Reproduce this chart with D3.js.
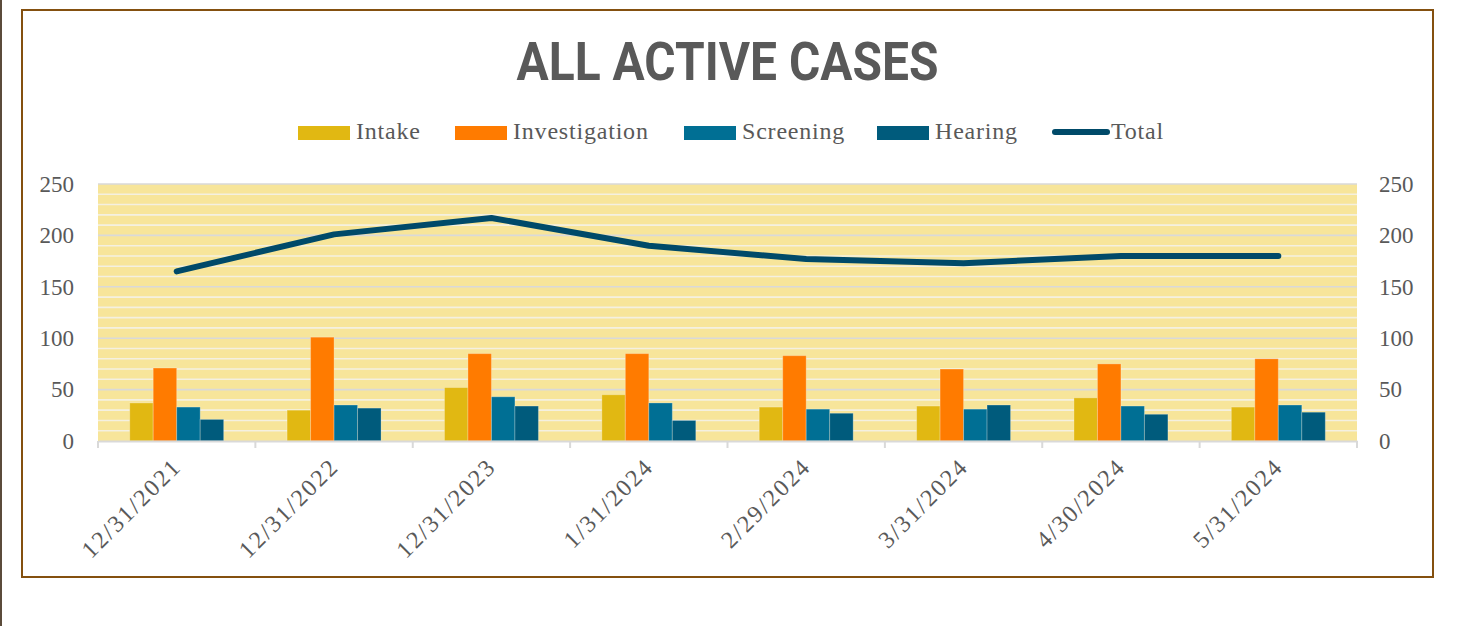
<!DOCTYPE html>
<html>
<head>
<meta charset="utf-8">
<script src="https://cdn.jsdelivr.net/npm/d3@7"></script>
<style>
  body { margin: 0; background: #fff; }
  svg { display: block; }
</style>
</head>
<body>
<div id="chart"></div>
<script>
// Data
const dates = ['12/31/2021', '12/31/2022', '12/31/2023', '1/31/2024',
               '2/29/2024', '3/31/2024', '4/30/2024', '5/31/2024'];
const seriesNames = ['Intake', 'Investigation', 'Screening', 'Hearing'];
const intake        = [37, 30, 52, 45, 33, 34, 42, 33];
const investigation = [71, 101, 85, 85, 83, 70, 75, 80];
const screening     = [33, 35, 43, 37, 31, 31, 34, 35];
const hearing       = [21, 32, 34, 20, 27, 35, 26, 28];
const total         = [165, 201, 217, 190, 177, 173, 180, 180];
const yTicks = [0, 50, 100, 150, 200, 250];

const colors = ['#e1b812', '#ff7b00', '#006f94', '#005b7c'];
const lineColor = '#004a69';
const textColor = '#595959';
const serif = '"Palatino Linotype", "Book Antiqua", Palatino, "Liberation Serif", serif';

const W = 1484, H = 626;
const plot = { left: 98, right: 1357, top: 184, bottom: 441 };

const svg = d3.select('#chart').append('svg')
    .attr('width', W)
    .attr('height', H);

// thin edge at the very left and the chart frame
svg.append('line')
    .attr('x1', 1).attr('x2', 1).attr('y1', 0).attr('y2', H)
    .attr('stroke', '#5b4b3b').attr('stroke-width', 2);
svg.append('rect')
    .attr('x', 22).attr('y', 10).attr('width', 1411).attr('height', 567)
    .attr('fill', '#fff')
    .attr('stroke', '#84500f').attr('stroke-width', 2);

// Scales
const x = d3.scaleBand()
    .domain(dates)
    .range([plot.left, plot.right])
    .paddingInner(0).paddingOuter(0);

// bars take up about 60% of each category
const x1 = d3.scaleBand()
    .domain(seriesNames)
    .range([0, x.bandwidth()])
    .paddingOuter(1.35)
    .paddingInner(0);

const y = d3.scaleLinear()
    .domain([0, 250])
    .range([plot.bottom, plot.top]);

// Plot background
svg.append('rect')
    .attr('x', plot.left).attr('y', plot.top)
    .attr('width', plot.right - plot.left).attr('height', plot.bottom - plot.top)
    .attr('fill', '#f7e59a');

// minor gridlines every 10, major every 50
svg.append('g')
    .selectAll('line')
    .data(d3.range(10, 250, 10).filter(v => v % 50 !== 0))
    .join('line')
    .attr('x1', plot.left).attr('x2', plot.right)
    .attr('y1', d => y(d)).attr('y2', d => y(d))
    .attr('stroke', '#f4f0e0').attr('stroke-width', 1.6);

svg.append('g')
    .selectAll('line')
    .data(yTicks.slice(1))
    .join('line')
    .attr('x1', plot.left).attr('x2', plot.right)
    .attr('y1', d => y(d)).attr('y2', d => y(d))
    .attr('stroke', '#d9d9d9').attr('stroke-width', 1.6);

// Bars
const barData = dates.map((d, i) => ({
    date: d,
    values: [intake[i], investigation[i], screening[i], hearing[i]]
}));

svg.append('g')
    .selectAll('g')
    .data(barData)
    .join('g')
    .attr('transform', d => `translate(${x(d.date)},0)`)
    .selectAll('rect')
    .data(d => d.values.map((v, j) => ({ name: seriesNames[j], value: v, j })))
    .join('rect')
    .attr('x', d => x1(d.name))
    .attr('y', d => y(d.value))
    .attr('width', x1.bandwidth())
    .attr('height', d => y(0) - y(d.value))
    .attr('fill', d => colors[d.j])
    .attr('stroke', '#ffffff').attr('stroke-opacity', 0.25).attr('stroke-width', 1);

// Total line
const line = d3.line()
    .x((d, i) => x(dates[i]) + x.bandwidth() / 2)
    .y(d => y(d));

svg.append('path')
    .datum(total)
    .attr('d', line)
    .attr('fill', 'none')
    .attr('stroke', lineColor)
    .attr('stroke-width', 6)
    .attr('stroke-linecap', 'round')
    .attr('stroke-linejoin', 'round');

// X axis
const xAxis = svg.append('g')
    .attr('transform', `translate(0,${plot.bottom})`)
    .call(d3.axisBottom(x).tickSize(0).tickFormat(''));
xAxis.select('.domain').attr('stroke', '#d9d9d9').attr('stroke-width', 2);

xAxis.selectAll('.boundary')
    .data(d3.range(dates.length + 1))
    .join('line')
    .attr('x1', i => plot.left + i * x.bandwidth())
    .attr('x2', i => plot.left + i * x.bandwidth())
    .attr('y1', 0).attr('y2', 7)
    .attr('stroke', '#d9d9d9').attr('stroke-width', 2);

svg.append('g')
    .selectAll('text')
    .data(dates)
    .join('text')
    .attr('transform', d => `translate(${x(d) + x.bandwidth() / 2 + 6},${plot.bottom + 27}) rotate(-45)`)
    .attr('text-anchor', 'end')
    .attr('font-family', serif)
    .attr('font-size', 24)
    .attr('letter-spacing', 2)
    .attr('fill', textColor)
    .text(d => d);

// Y axes (left and right)
const leftAxis = svg.append('g')
    .attr('transform', `translate(${plot.left},0)`)
    .call(d3.axisLeft(y).tickValues(yTicks).tickSize(0).tickPadding(24));
const rightAxis = svg.append('g')
    .attr('transform', `translate(${plot.right},0)`)
    .call(d3.axisRight(y).tickValues(yTicks).tickSize(0).tickPadding(22));

[leftAxis, rightAxis].forEach(ax => {
    ax.select('.domain').remove();
    ax.selectAll('text')
        .attr('font-family', serif)
        .attr('font-size', 23)
        .attr('fill', textColor);
});

// Title
svg.append('text')
    .attr('x', (plot.left + plot.right) / 2)
    .attr('y', 80)
    .attr('text-anchor', 'middle')
    .attr('font-family', '"Liberation Sans Narrow", "Roboto", sans-serif')
    .attr('font-weight', 'bold')
    .attr('font-size', 53)
    .attr('textLength', 422)
    .attr('lengthAdjust', 'spacingAndGlyphs')
    .attr('fill', textColor)
    .text('ALL ACTIVE CASES');

// Legend
const legendItems = [
    { name: 'Intake', x: 298, type: 'bar', color: colors[0] },
    { name: 'Investigation', x: 455, type: 'bar', color: colors[1] },
    { name: 'Screening', x: 684, type: 'bar', color: colors[2] },
    { name: 'Hearing', x: 877, type: 'bar', color: colors[3] },
    { name: 'Total', x: 1055, type: 'line', color: lineColor }
];

const legend = svg.append('g')
    .selectAll('g')
    .data(legendItems)
    .join('g')
    .attr('transform', d => `translate(${d.x},0)`);

legend.filter(d => d.type === 'bar')
    .append('rect')
    .attr('x', 0).attr('y', 126)
    .attr('width', 52).attr('height', 14)
    .attr('fill', d => d.color);

legend.filter(d => d.type === 'line')
    .append('line')
    .attr('x1', 0).attr('x2', 52)
    .attr('y1', 132).attr('y2', 132)
    .attr('stroke', d => d.color)
    .attr('stroke-width', 6)
    .attr('stroke-linecap', 'round');

legend.append('text')
    .attr('x', d => d.type === 'line' ? 56 : 58)
    .attr('y', 139)
    .attr('font-family', serif)
    .attr('font-size', 24)
    .attr('letter-spacing', 0.8)
    .attr('fill', textColor)
    .text(d => d.name);
</script>
</body>
</html>
